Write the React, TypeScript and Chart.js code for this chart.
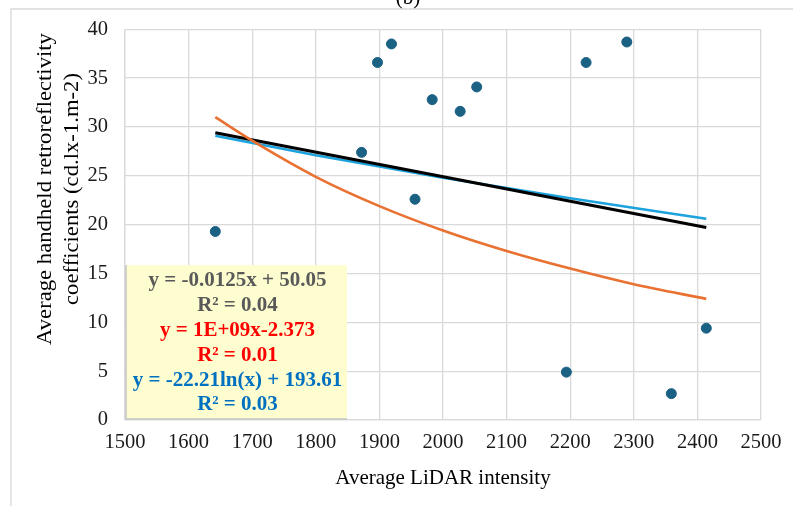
import React, { useEffect, useRef } from "react";
import { Chart, registerables } from "chart.js";

Chart.register(...registerables);

const pointX = [1642, 1872, 1897, 1919, 1956, 1983, 2027, 2053, 2194, 2225, 2289, 2359, 2414];
const pointY = [19.3, 27.4, 36.6, 38.5, 22.6, 32.8, 31.6, 34.1, 4.9, 36.6, 38.7, 2.7, 9.4];

const linX = [1642, 2414];
const linY = [29.4, 19.7];

const powX = [1642, 1700, 1800, 1900, 2000, 2100, 2200, 2300, 2414];
const powY = [31.0, 28.6, 24.9, 21.9, 19.4, 17.3, 15.5, 13.9, 12.4];

const logX = [1642, 1800, 2000, 2200, 2414];
const logY = [29.1, 27.1, 24.8, 22.7, 20.6];

const boxLines = [
  { text: "y = -0.0125x + 50.05", color: "#595959" },
  { text: "R² = 0.04", color: "#595959" },
  { text: "y = 1E+09x-2.373", color: "#ff0000" },
  { text: "R² = 0.01", color: "#ff0000" },
  { text: "y = -22.21ln(x) + 193.61", color: "#0070c0" },
  { text: "R² = 0.03", color: "#0070c0" },
];

const yTitle = ["Average handheld retroreflectivity", "coefficients (cd.lx-1.m-2)"];
const xTitle = "Average LiDAR intensity";
const chartTitle = "(b)";

const SERIF = "'Liberation Serif', 'Times New Roman', serif";

const zip = (xs: number[], ys: number[]) => xs.map((x, i) => ({ x, y: ys[i] }));

export default function App() {
  const ref = useRef<HTMLCanvasElement | null>(null);

  useEffect(() => {
    if (!ref.current) return;
    const decor = {
      id: "decor",
      beforeDraw(chart: any) {
        const { ctx } = chart;
        ctx.save();
        ctx.fillStyle = "#ffffff";
        ctx.fillRect(0, 0, chart.width, chart.height);
        ctx.strokeStyle = "#d9d9d9";
        ctx.lineWidth = 1.3;
        ctx.beginPath();
        ctx.moveTo(11, chart.height);
        ctx.lineTo(11, 9);
        ctx.lineTo(chart.width, 9);
        ctx.stroke();
        ctx.fillStyle = "#000";
        ctx.font = `21px ${SERIF}`;
        ctx.textAlign = "center";
        ctx.textBaseline = "alphabetic";
        ctx.fillText(chartTitle, 408, 4);
        ctx.restore();
      },
      afterDatasetsDraw(chart: any) {
        const { ctx, chartArea } = chart;
        const xs = chart.scales.x;
        ctx.save();
        const bx = chartArea.left + 1;
        const by = 265;
        const bw = 221;
        const bh = chartArea.bottom - by - 1;
        ctx.fillStyle = "#fefdd0";
        ctx.fillRect(bx, by, bw, bh);
        ctx.strokeStyle = "#c4c4c4";
        ctx.lineWidth = 1.5;
        ctx.beginPath();
        ctx.moveTo(bx, by);
        ctx.lineTo(bx, by + bh);
        ctx.lineTo(bx + bw, by + bh);
        ctx.stroke();
        ctx.font = `bold 21px ${SERIF}`;
        ctx.textAlign = "center";
        ctx.textBaseline = "middle";
        boxLines.forEach((l, i) => {
          ctx.fillStyle = l.color;
          ctx.fillText(l.text, bx + bw / 2 + 1, 281 + i * 24.8);
        });
        // axis titles
        ctx.fillStyle = "#000";
        ctx.font = `21px ${SERIF}`;
        ctx.textAlign = "center";
        ctx.textBaseline = "middle";
        ctx.fillText(xTitle, (xs.left + xs.right) / 2, 478);
        yTitle.forEach((t, i) => {
          ctx.save();
          ctx.translate(45 + i * 27, 189);
          ctx.rotate(-Math.PI / 2);
          ctx.scale(1.08, 1);
          ctx.fillText(t, 0, 0);
          ctx.restore();
        });
        ctx.restore();
      },
    };

    const chart = new Chart(ref.current, {
      type: "scatter",
      data: {
        datasets: [
          {
            data: zip(pointX, pointY),
            backgroundColor: "#1b6184",
            borderColor: "#1b6184",
            pointRadius: 5,
            showLine: false,
            order: 0,
          },
          {
            data: zip(powX, powY),
            borderColor: "#e97132",
            borderWidth: 2.6,
            pointRadius: 0,
            showLine: true,
            cubicInterpolationMode: "monotone",
            order: 1,
          },
          {
            data: zip(linX, linY),
            borderColor: "#000000",
            borderWidth: 3,
            pointRadius: 0,
            showLine: true,
            order: 2,
          },
          {
            data: zip(logX, logY),
            borderColor: "#1ca2dc",
            borderWidth: 2.6,
            pointRadius: 0,
            showLine: true,
            cubicInterpolationMode: "monotone",
            order: 3,
          },
        ],
      } as any,
      options: {
        responsive: false,
        animation: false,
        layout: { padding: { top: 29, right: 32, left: 0, bottom: 0 } },
        plugins: { legend: { display: false }, tooltip: { enabled: false } },
        scales: {
          x: {
            type: "linear",
            min: 1500,
            max: 2500,
            afterFit: (s: any) => {
              s.height = 86;
            },
            ticks: {
              stepSize: 100,
              padding: 10,
              color: "#1a1a1a",
              font: { family: SERIF, size: 20.5 },
              callback: (v: any) => String(v),
            },
            grid: { color: "#d9d9d9", lineWidth: 1.3, drawTicks: false },
            border: { display: true, color: "#d9d9d9", width: 1.3 },
          },
          y: {
            type: "linear",
            min: 0,
            max: 40,
            afterFit: (s: any) => {
              s.width = 125;
            },
            ticks: {
              stepSize: 5,
              padding: 17,
              color: "#1a1a1a",
              font: { family: SERIF, size: 20.5 },
            },
            grid: { color: "#d9d9d9", lineWidth: 1.3, drawTicks: false },
            border: { display: true, color: "#d9d9d9", width: 1.3 },
          },
        },
      } as any,
      plugins: [decor],
    });
    return () => chart.destroy();
  }, []);

  return (
    <div style={{ position: "absolute", left: 0, top: 0, width: 793, height: 506 }}>
      <canvas ref={ref} width={793} height={506} style={{ display: "block" }} />
    </div>
  );
}
